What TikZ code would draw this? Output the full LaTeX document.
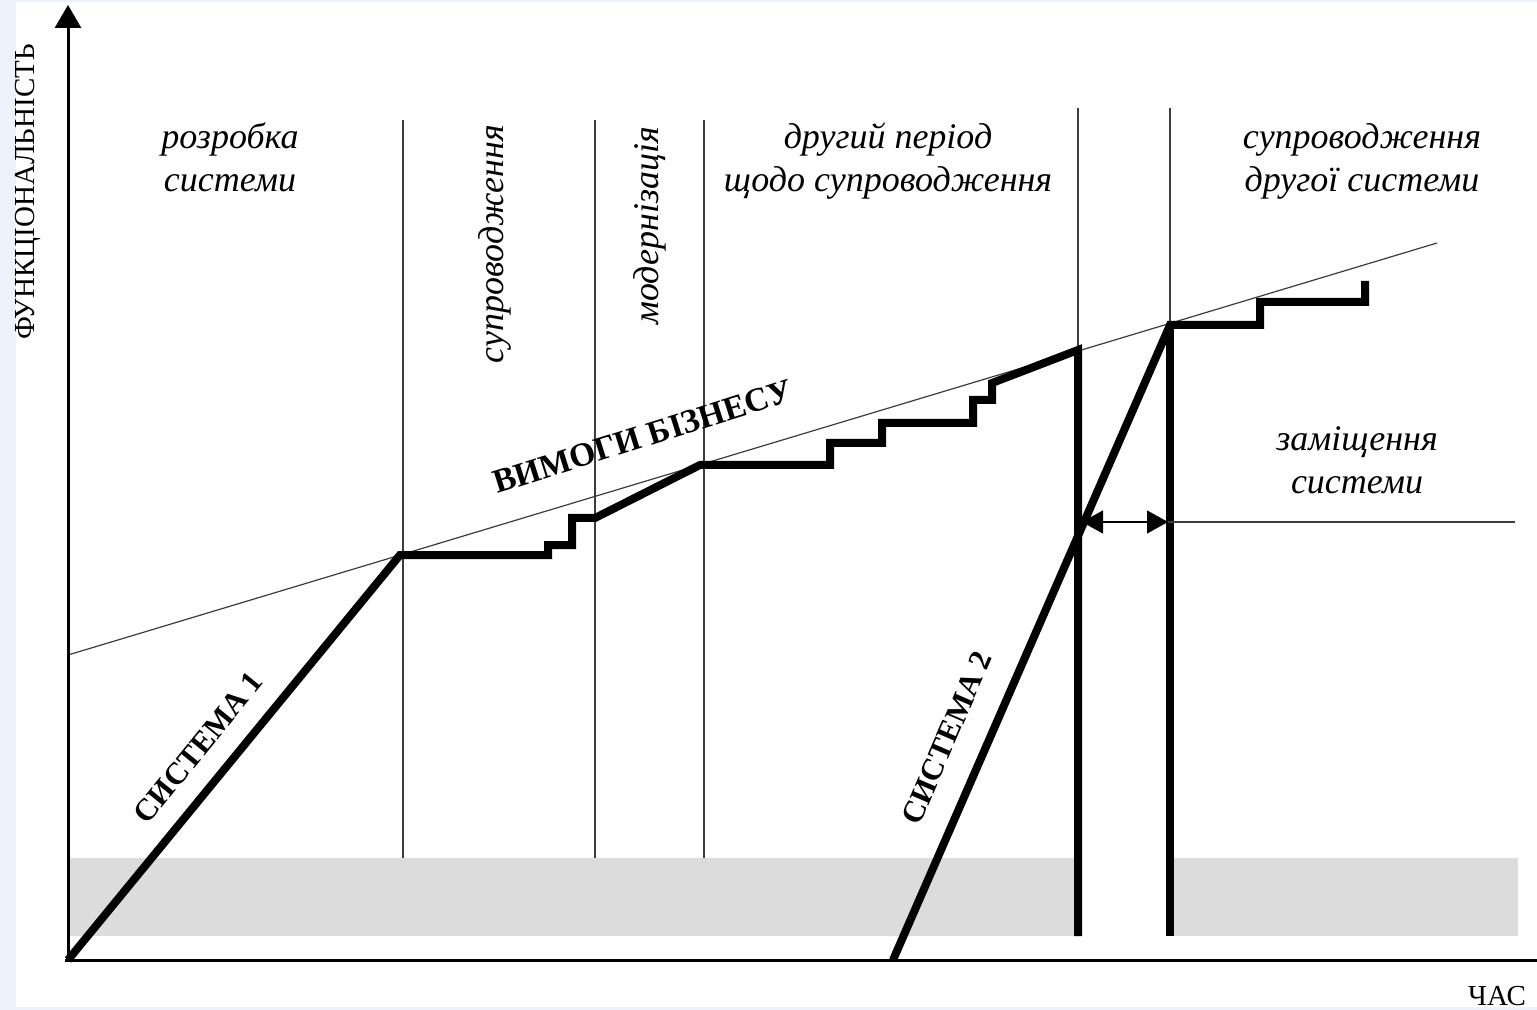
\documentclass[tikz,border=0pt]{standalone}
\usepackage{fontspec}
\setmainfont{Liberation Serif}
\usetikzlibrary{arrows.meta,calc,positioning}

\definecolor{bgblue}{RGB}{236,243,251}
\definecolor{bandgray}{RGB}{220,220,220}
\definecolor{thingray}{RGB}{60,60,60}

\tikzset{
	sysline/.style={line width=4pt, line join=miter},
	thinline/.style={line width=0.6pt, draw=thingray},
	axisline/.style={line width=1.5pt},
	phase/.style={font=\itshape\fontsize{18}{21.5}\selectfont, align=center, inner sep=0pt},
	axislabel/.style={font=\fontsize{14.5}{16}\selectfont, inner sep=0pt},
	boldlabel/.style={font=\bfseries\fontsize{15.5}{18}\selectfont, inner sep=0pt, anchor=base}
}

\begin{document}
\begin{tikzpicture}[x=0.5pt,y=-0.5pt]

		\useasboundingbox (0,0) rectangle (1537,1010);
		\fill[bgblue] (0,0) rectangle (1537,1010);
		\fill[white] (16,2) rectangle (1537,1007);

		\coordinate (O) at (68,960);
		\coordinate (Ytop) at (68,5);
		\coordinate (Xend) at (1537,960);

		% bands
		\fill[bandgray] (68,858) rectangle (1078,936);
		\fill[bandgray] (1172,858) rectangle (1518,936);

		% phase borders
		\foreach \x in {403,595,704} {
		\draw[thinline] (\x,120) -- (\x,858);
		}
		\draw[thinline] (1078,108) -- (1078,352);
		\draw[thinline] (1170,108) -- (1170,326);

		% business requirements
		\coordinate (R1) at (68,655);
		\coordinate (R2) at (1437,243);
		\draw[thinline] (R1) -- (R2);

		% axes
		\draw[axisline, -{Triangle[length=11.5pt,width=13pt]}] (O) -- (Ytop);
		\draw[axisline] ($(O)+(-3,0)$) -- (Xend);

		% system 1
		\draw[sysline] (O) -- (400,555) coordinate (S1a)
			-- (548,555) -- (548,545) -- (572,545) -- (572,518) -- (595,518)
			-- (700,465) coordinate (S1b)
			-- (830,465) -- (830,443) -- (882,443) -- (882,423) -- (973,423)
			-- (973,400) -- (992,400) -- (992,383)
			-- (1078,350) coordinate (S1end) -- (1078,936);

		% system 2
		\coordinate (S2start) at (893,960);
		\coordinate (S2top) at (1170,325);
		\draw[sysline] (S2start) -- (S2top) -- (1260,325) -- (1260,302) -- (1365,302) -- (1365,281);
		\draw[sysline] (1170,323) -- (1170,936);

		% replacement gap
		\coordinate (G1) at (1082,522);
		\coordinate (G2) at (1168,522);
		\coordinate (G3) at (1515,522);
		\draw[thinline, draw=black, {Triangle[length=10.5pt,width=11.5pt]}-{Triangle[length=10.5pt,width=11.5pt]}] (G1) -- (G2);
		\draw[thinline] (G2) -- (G3);

		% labels
		\node[axislabel, rotate=90] (yl) at (28,192) {ФУНКЦІОНАЛЬНІСТЬ};
		\node[axislabel] (xl) at (1497,996) {ЧАС};

		\node[phase, anchor=base] (p1) at (230,192) {розробка\\системи};
		\node[phase, rotate=90] (p2) at (495,244) {супроводження};
		\node[phase, rotate=90] (p3) at (650,226) {модернізація};
		\node[phase, anchor=base] (p4) at (888,192) {другий період\\щодо супроводження};
		\node[phase, anchor=base] (p5) at (1362,192) {супроводження\\другої системи};
		\node[phase, anchor=base] (p6) at (1357,494) {заміщення\\системи};

		\node[boldlabel, font=\bfseries\fontsize{16.8}{18}\selectfont, rotate=17.5] (req) at (646,447) {ВИМОГИ БІЗНЕСУ};
		\node[boldlabel, rotate=51] (s1) at (206,754) {СИСТЕМА 1};
		\node[boldlabel, rotate=66.6] (s2) at (956,742) {СИСТЕМА 2};

	\end{tikzpicture}
\end{document}
